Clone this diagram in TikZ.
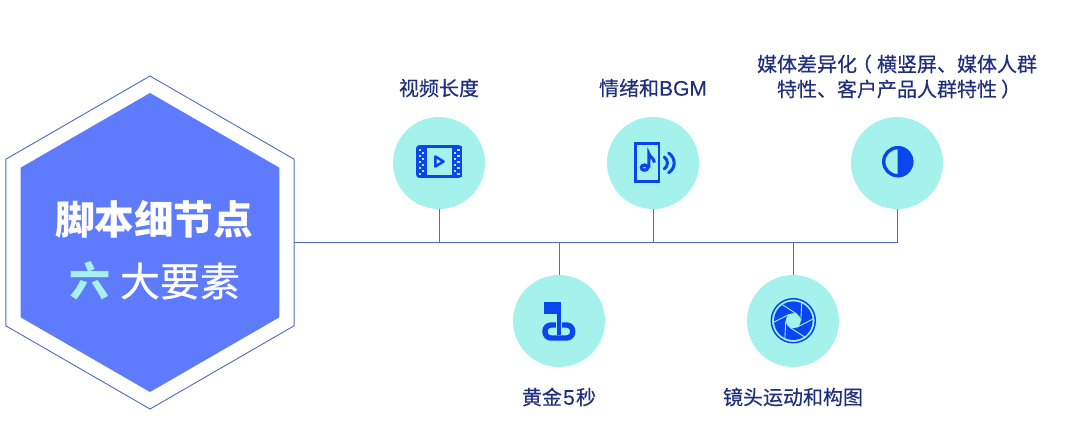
\documentclass[tikz,border=0pt]{standalone}
\usepackage{fontspec}
\setmainfont{Noto Sans CJK SC}
\newfontfamily\capfont[FakeBold=0.35]{Noto Sans CJK SC}
\newfontfamily\midfont[FakeBold=0.5]{Noto Sans CJK SC}
\newfontfamily\latinfont[FakeBold=0.2]{Liberation Sans}
\usetikzlibrary{shapes.geometric,calc}
\definecolor{mintc}{HTML}{A5F2EC}
\definecolor{hexc}{HTML}{5E7BFE}
\definecolor{linec}{HTML}{4F6BC4}
\definecolor{iconc}{HTML}{0A46EE}
\definecolor{textc}{HTML}{1E2F7C}
\newcommand{\latn}[1]{{\latinfont\fontsize{21}{25}\selectfont #1}}
\tikzset{
  hexshape/.style={regular polygon,regular polygon sides=6,shape border rotate=30,inner sep=0pt,outer sep=0pt},
  badge/.style={circle,fill=mintc,minimum size=92pt,inner sep=0pt,outer sep=0pt},
  caption/.style={text=textc,font=\capfont\fontsize{20}{25}\selectfont,align=center,inner sep=0pt},
  conn/.style={draw=linec,line width=0.9pt},
  iconline/.style={draw=iconc,line width=2.8pt},
}
\begin{document}
\begin{tikzpicture}[x=1pt,y=-1pt]
\useasboundingbox[fill=white] (0,0) rectangle (1073,434);
% hexagons
\node[hexshape,draw=linec,line width=0.9pt,fill=white,minimum size=333pt] (hexo) at (150,242.5) {};
\node[hexshape,fill=hexc,minimum size=299pt] (hexi) at (150,242.5) {};
\node[text=white,font=\fontsize{39.6}{39.6}\selectfont\bfseries,inner sep=0pt] (title) at (154,219) {脚本细节点};
\node[text=mintc,font=\fontsize{41}{41}\selectfont\bfseries,inner sep=0pt] (six) at (89.5,281) {六};
\node[text=white,font=\midfont\fontsize{40}{40}\selectfont,inner sep=0pt] (big) at (180,281) {大要素};
% badges
\node[badge] (a) at (439,163) {};
\node[badge] (b) at (653,163) {};
\node[badge] (c) at (897,163) {};
\node[badge] (d) at (559,321) {};
\node[badge] (e) at (793,321) {};
% connectors
\coordinate (ja) at (439,242.5);
\coordinate (jb) at (653,242.5);
\coordinate (jc) at (897,242.5);
\coordinate (jd) at (559,242.5);
\coordinate (je) at (793,242.5);
\draw[conn] (hexo.east) -- (jc) -- (c.south);
\draw[conn] (ja) -- (a.south);
\draw[conn] (jb) -- (b.south);
\draw[conn] (jd) -- (d.north);
\draw[conn] (je) -- (e.north);
% labels
\node[caption] (la) at (439,88) {视频长度};
\node[caption] (lb) at (653,88) {情绪和\latn{BGM}};
\node[caption] (lc) at (897,76.5) {媒体差异化\kern-5pt（\kern5pt横竖屏、媒体人群\\特性、客户产品人群特性\kern4pt）\kern-4pt};
\node[caption] (ld) at (559,397) {黄金\kern1.2pt\latn{5}\kern1.2pt秒};
\node[caption] (le) at (793,397) {镜头运动和构图};
% icon: film
\begin{scope}
\draw[iconline,rounded corners=2pt] (417.5,146.5) rectangle (460.5,176.5);
\fill[iconc] (416.5,146) rectangle (426.5,177);
\fill[iconc] (451.5,146) rectangle (461.5,177);
\foreach \yy in {148.5,154.5,160.5,166.5,172.5}{
  \fill[mintc] (418.5,\yy) rectangle (420.8,\yy+2.3);
  \fill[mintc] (457.2,\yy) rectangle (459.5,\yy+2.3);
}
\foreach \yy in {151.5,157.5,163.5,169.5}{
  \fill[mintc] (421.8,\yy) rectangle (424.1,\yy+2.3);
  \fill[mintc] (453.9,\yy) rectangle (456.2,\yy+2.3);
}
\draw[iconc,line width=2.6pt,line join=round] (435.3,156.5) -- (443.5,161.5) -- (435.3,166.5) -- cycle;
\end{scope}
% icon: phone with note
\begin{scope}
\draw[iconline] (635.4,143.7) rectangle (659,181.3);
\draw[iconc,line width=3.2pt] (644.5,167.6) ellipse (3.2pt and 2.6pt);
\draw[iconc,line width=3pt] (648.8,168) -- (648.8,153.5) .. controls (649.5,157) and (653.5,157.5) .. (654.5,162.5);
\draw[iconc,line width=3pt,line cap=round] (664.3,157) .. controls (668.4,160) and (668.4,166) .. (664.3,169);
\draw[iconc,line width=3pt,line cap=round] (668.6,153) .. controls (676,158) and (676,168) .. (668.6,172.7);
\end{scope}
% icon: half circle
\begin{scope}
\draw[iconc,line width=3.4pt] (897.7,161.7) circle (14pt);
\fill[iconc] (897.7,146) arc[start angle=90,end angle=-90,radius=15.7pt] -- cycle;
\end{scope}
% icon: flag
\begin{scope}
\fill[iconc] (544.3,301.7) rectangle (560.6,314);
\draw[iconc,line width=5.4pt,rounded corners=6pt] (545,325) rectangle (572.6,338);
\fill[mintc] (555.8,322) rectangle (561.6,334);
\fill[iconc] (556.6,301.7) rectangle (560.8,335);
\end{scope}
% icon: aperture
\begin{scope}
\draw[iconc,line width=1.5pt] (793.3,320.7) circle (22pt);
\fill[iconc] (793.3,320.7) circle (19.3pt);
\fill[mintc] (793.3,320.7) circle (7.5pt);
\foreach \aa in {0,60,...,300}{
  \draw[mintc,line width=0.9pt] ($(793.3,320.7)+(\aa:7.5pt)$) -- ($(793.3,320.7)+(\aa+65:20pt)$);
}
\end{scope}
\end{tikzpicture}
\end{document}
